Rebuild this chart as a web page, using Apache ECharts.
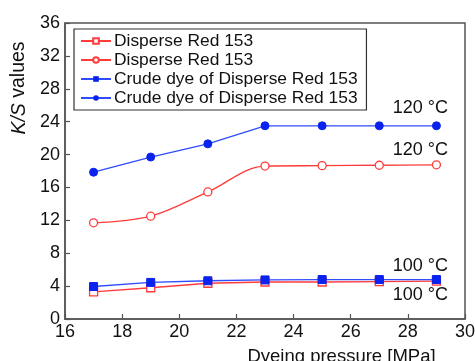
<!DOCTYPE html>
<html><head><meta charset="utf-8">
<script src="https://cdn.jsdelivr.net/npm/echarts@6/dist/echarts.min.js"></script>
<style>html,body{margin:0;padding:0;background:#fff}#c{width:475px;height:361px}</style>
</head><body><div id="c"></div>
<script>
const pressure = [17, 19, 21, 23, 25, 27, 29];
const red100 = [3.3, 3.8, 4.35, 4.5, 4.5, 4.55, 4.6];
const red120 = [11.7, 12.5, 15.45, 18.6, 18.65, 18.7, 18.75];
const crude100 = [3.95, 4.45, 4.65, 4.75, 4.8, 4.8, 4.8];
const crude120 = [17.85, 19.7, 21.3, 23.5, 23.5, 23.5, 23.5];
const names = ['Disperse Red 153', 'Disperse Red 153 ', 'Crude dye of Disperse Red 153', 'Crude dye of Disperse Red 153 '];
const tempLabels = ['100 °C', '120 °C', '100 °C', '120 °C'];

const FONT = 'Arial, Liberation Sans, sans-serif';
const RED = '#ff3b3b', BLUE = '#2f4dff', BLUEM = '#0a22ee';
function mk(vals, label, offset) {
  return vals.map((v, i) => {
    const d = { value: [pressure[i], v] };
    if (i === vals.length - 1) {
      d.label = { show: true, formatter: label, position: 'inside', offset: offset,
        color: '#111', fontSize: 18, fontFamily: FONT };
    }
    return d;
  });
}
const chart = echarts.init(document.getElementById('c'));
chart.setOption({
  animation: false,
  grid: { left: 65, right: 10, top: 23, bottom: 42, show: true, borderColor: '#555', borderWidth: 1.5,
          outerBoundsMode: 'none', containLabel: false },
  legend: {
    left: 74, top: 29, orient: 'vertical', itemGap: 1, itemWidth: 30, itemHeight: 7,
    padding: [3, 4, 3, 6], borderColor: '#333', borderWidth: 1.2, backgroundColor: '#fff',
    textStyle: { fontSize: 17.4, lineHeight: 18, color: '#111', fontFamily: FONT, padding: [0, 0, 0, -2] },
    data: names
  },
  xAxis: {
    type: 'value', min: 16, max: 30, interval: 2,
    name: 'Dyeing pressure [MPa]', nameLocation: 'middle', nameGap: 28,
    nameTextStyle: { fontSize: 18.5, color: '#111', fontFamily: FONT, padding: [0, 0, 0, 153] },
    axisLine: { lineStyle: { color: '#555', width: 1.5 } },
    axisTick: { inside: true, length: 5, lineStyle: { color: '#555', width: 1.2 } },
    axisLabel: { fontSize: 18, color: '#111', margin: 4, fontFamily: FONT },
    splitLine: { show: false }
  },
  yAxis: {
    type: 'value', min: 0, max: 36, interval: 4,
    name: '{i|K/S} values', nameLocation: 'middle', nameGap: 35,
    nameTextStyle: { fontSize: 19.5, color: '#111', fontFamily: FONT, padding: [0, 0, 0, 166],
      rich: { i: { fontStyle: 'italic', fontSize: 19.5, color: '#111', fontFamily: FONT } } },
    axisLine: { show: true, lineStyle: { color: '#555', width: 1.5 } },
    axisTick: { show: true, inside: true, length: 5, lineStyle: { color: '#555', width: 1.2 } },
    axisLabel: { fontSize: 18, color: '#111', margin: 5, fontFamily: FONT },
    splitLine: { show: false }
  },
  series: [
    { name: names[0], type: 'line', data: mk(red100, tempLabels[0], [-16, 14]),
      symbol: 'rect', symbolSize: 8,
      itemStyle: { color: '#fff', borderColor: RED, borderWidth: 1.3 },
      lineStyle: { color: RED, width: 1.3 }, z: 2 },
    { name: names[1], type: 'line', data: mk(red120, tempLabels[1], [-16, -15]),
      symbol: 'circle', symbolSize: 8, smooth: 0.35,
      itemStyle: { color: '#fff', borderColor: RED, borderWidth: 1.3 },
      lineStyle: { color: RED, width: 1.3 } },
    { name: names[2], type: 'line', data: mk(crude100, tempLabels[2], [-16, -14]),
      symbol: 'rect', symbolSize: 8,
      itemStyle: { color: BLUEM, borderColor: BLUEM },
      lineStyle: { color: BLUE, width: 1.3 }, z: 3 },
    { name: names[3], type: 'line', data: mk(crude120, tempLabels[3], [-16, -18]),
      symbol: 'circle', symbolSize: 8,
      itemStyle: { color: BLUEM, borderColor: BLUEM },
      lineStyle: { color: BLUE, width: 1.3 } }
  ]
});
</script></body></html>
